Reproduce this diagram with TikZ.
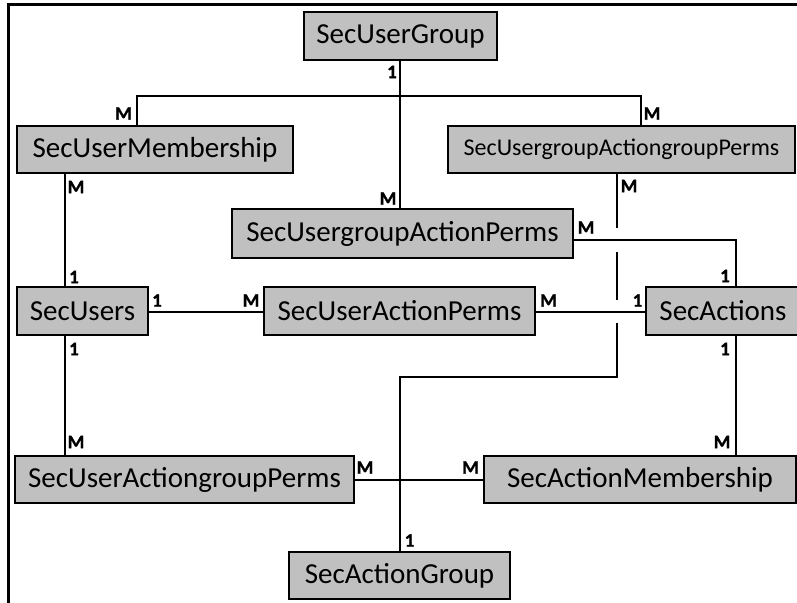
\documentclass[tikz,border=0pt]{standalone}
\usepackage{fontspec}
\setmainfont{Carlito}[BoldFont={Carlito Bold}]
\newfontfamily\cardfont{Carlito Bold}[FakeBold=1.2]
\definecolor{boxgray}{RGB}{192,192,192}
\begin{document}
\begin{tikzpicture}[x=1pt,y=-1pt,
  entity/.style={draw=black, line width=2.2pt, fill=boxgray, rectangle, inner sep=0pt,
    font=\fontsize{29}{34}\selectfont, minimum height=47pt},
  conn/.style={line width=2pt},
  card/.style={font=\cardfont\fontsize{19}{22}\selectfont, inner sep=0pt}]
\useasboundingbox (0,0) rectangle (797,602);
% frame
\draw[line width=3pt] (798,5) -- (8,5) -- (8,603);
% entities
\node[entity, minimum width=193pt, minimum height=48pt] (UG) at (400.5,36) {SecUserGroup};
\node[entity, minimum width=276pt] (UM) at (155,149.5) {SecUserMembership};
\node[entity, minimum width=347pt, font=\fontsize{24}{28}\selectfont] (UGAGP) at (621.5,149.5) {SecUsergroupActiongroupPerms};
\node[entity, minimum width=341pt, minimum height=49pt] (UGAP) at (402.5,233.5) {SecUsergroupActionPerms};
\node[entity, minimum width=131pt, minimum height=48pt] (U) at (82.5,311) {SecUsers};
\node[entity, minimum width=271pt, minimum height=48pt] (UAP) at (399.5,311) {SecUserActionPerms};
\node[entity, minimum width=154pt, minimum height=48pt] (A) at (723,311) {SecActions};
\node[entity, minimum width=339pt] (UAGP) at (184.5,479.5) {SecUserActiongroupPerms};
\node[entity, minimum width=312pt] (AM) at (640,479.5) {SecActionMembership};
\node[entity, minimum width=221pt] (AG) at (399.5,575.5) {SecActionGroup};
% helper coordinates
\coordinate (xG) at (400,0);
\coordinate (bL) at (137,96);
\coordinate (bR) at (641,96);
\coordinate (xU) at (65,0);
\coordinate (yR) at (0,312);
\coordinate (xA) at (736,0);
\coordinate (yP) at (0,240);
\coordinate (xJ) at (617,0);
\coordinate (j1) at (617,228);
\coordinate (j2) at (617,252);
\coordinate (j3) at (617,300);
\coordinate (j4) at (617,323);
\coordinate (bend) at (617,377);
\coordinate (bend2) at (400,377);
% connectors
\draw[conn] (UG.south -| xG) -- (UGAP.north -| xG);
\draw[conn] (UM.north -| bL) -- (bL) -- (bR) -- (UGAGP.north -| bR);
\draw[conn] (UM.south -| xU) -- (U.north -| xU);
\draw[conn] (U.south -| xU) -- (UAGP.north -| xU);
\draw[conn] (U.east |- yR) -- (UAP.west |- yR);
\draw[conn] (UAP.east |- yR) -- (A.west |- yR);
\draw[conn] (UAGP.east) -- (AM.west);
\draw[conn] (A.south -| xA) -- (AM.north -| xA);
\draw[conn] (UGAP.east |- yP) -- (xA |- yP) -- (A.north -| xA);
\draw[conn] (UGAGP.south -| xJ) -- (j1);
\draw[conn] (j2) -- (j3);
\draw[conn] (j4) -- (bend) -- (bend2) -- (AG.north -| bend2);
% cardinalities
\node[card] (c1) at (392,72) {1};
\node[card] (c2) at (123.5,113.5) {M};
\node[card] (c3) at (652,113.5) {M};
\node[card] (c4) at (76,187) {M};
\node[card] (c5) at (74,277) {1};
\node[card] (c6) at (388,198.5) {M};
\node[card] (c7) at (629,186) {M};
\node[card] (c8) at (586,227.5) {M};
\node[card] (c9) at (725,276) {1};
\node[card] (c10) at (157,300.5) {1};
\node[card] (c11) at (251,300.5) {M};
\node[card] (c12) at (548.5,300.5) {M};
\node[card] (c13) at (637.5,300.5) {1};
\node[card] (c14) at (74,349) {1};
\node[card] (c15) at (76,442) {M};
\node[card] (c16) at (725,349) {1};
\node[card] (c17) at (722,442) {M};
\node[card] (c18) at (365,467.5) {M};
\node[card] (c19) at (470.5,467.5) {M};
\node[card] (c20) at (409.5,540.5) {1};
\end{tikzpicture}
\end{document}
